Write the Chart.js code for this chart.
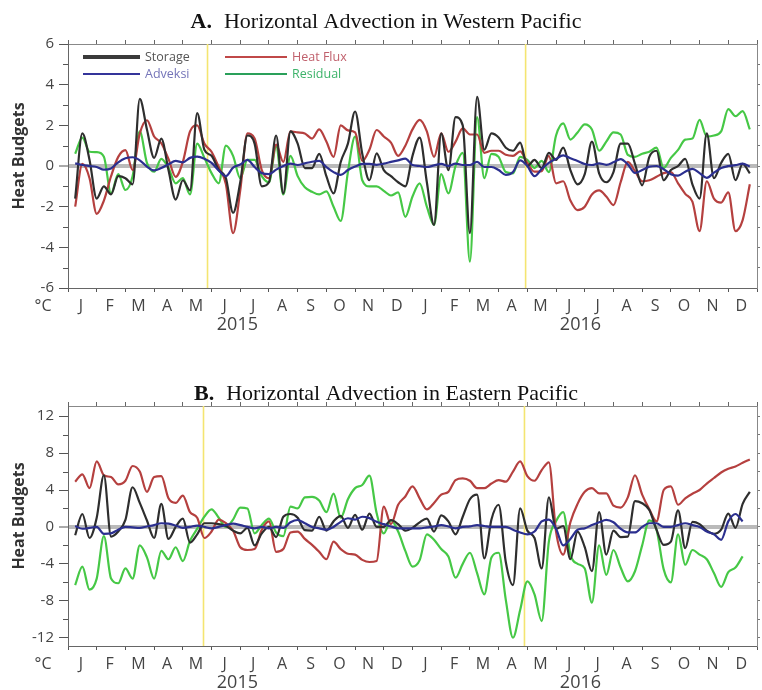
<!DOCTYPE html>
<html>
<head>
<meta charset="utf-8">
<script src="https://cdn.jsdelivr.net/npm/chart.js@4.4.1/dist/chart.umd.min.js"></script>
<style>
  html, body { margin: 0; padding: 0; background: #fff; }
  #wrap { position: relative; width: 762px; height: 690px; }
  .panel { position: absolute; left: 0; width: 762px; height: 345px; }
</style>
</head>
<body>
<div id="wrap">
  <div class="panel" style="top:0"><canvas id="chartA" width="762" height="345"></canvas></div>
  <div class="panel" style="top:345px"><canvas id="chartB" width="762" height="345"></canvas></div>
</div>
<script>
// month letters for 2015 + 2016
var monthLetters = ['J','F','M','A','M','J','J','A','S','O','N','D',
                    'J','F','M','A','M','J','J','A','S','O','N','D'];
var yearNames = ['2015', '2016'];
var ticksA = [-6, -4, -2, 0, 2, 4, 6];
var ticksB = [-12, -8, -4, 0, 4, 8, 12];

// sample times (months since Jan 2015), quarter-month steps
var sampleMonths = [];
for (var i = 1; i <= 95; i++) sampleMonths.push(i * 0.25);

// A. Western Pacific
var storageA = [-1.6, 1.6, 0.3, -1.6, -1.0, -1.4, -0.5, -0.6, -0.9, 3.3,
  1.8, 0.4, 1.35, -0.2, -1.65, -0.7, -1.2, 2.6, 0.8, 0.5,
  -0.2, -0.6, -2.3, -0.8, 1.5, 1.1, -1.0, -0.8, 1.5, -1.35,
  1.7, 1.1, -0.1, -0.1, 0.6, -0.5, -1.35, 0.2, 1.1, 2.68,
  0.6, -0.7, 0.62, -0.2, -0.5, -0.8, -1.0, 0.5, 1.4, -0.8,
  -2.9, 1.6, -0.2, 2.4, 2.0, -3.3, 3.4, 0.8, 1.6, 1.4,
  0.9, 0.75, 1.15, 0.0, 0.3, -0.1, 0.65, 0.3, 0.9, -0.2,
  -0.9, -0.4, 1.2, -0.36, -0.8, -0.3, 1.1, 1.1, 0.1, -0.95,
  0.45, 0.75, -0.7, -0.2, 0.0, 0.35, -0.9, -1.6, 1.6, -0.6,
  0.15, 0.6, -0.7, 0.1, -0.36];
var heatFluxA = [-2.0, 0.1, -0.6, -2.35, -1.7, -0.5, 0.45, 0.78, -0.2, 1.6,
  2.25, 1.45, 1.12, 0.35, -0.53, 0.2, 1.7, 2.0, 1.1, 0.7,
  -0.05, -0.9, -3.3, -1.2, 1.6, 1.35, -0.2, -0.6, 1.05, 0.2,
  1.7, 1.65, 1.6, 1.35, 1.8, 1.2, 0.45, 2.0, 1.75, 1.65,
  0.25, 0.8, 1.77, 1.45, 1.15, 0.5, 1.0, 1.8, 2.27, 1.7,
  0.45, 1.6, 0.7, 1.2, 1.85, 1.55, 1.55, 0.65, 0.75, 0.75,
  0.55, 0.5, 0.72, 0.15, -0.28, -0.25, 0.5, -0.85, -0.75, -1.7,
  -2.17, -2.0, -1.4, -1.2, -1.5, -1.92, -0.8, 0.2, -0.25, -0.75,
  -0.7, -0.53, -0.35, -0.3, -0.85, -1.37, -1.75, -3.2, -0.75, -1.6,
  -1.8, -1.3, -3.2, -2.66, -0.9];
var adveksiA = [0.13, 0.05, 0.0, -0.05, -0.18, -0.12, 0.18, 0.38, 0.43, 0.28,
  -0.03, -0.22, -0.1, 0.08, 0.25, 0.18, 0.4, 0.46, 0.36, 0.15,
  -0.22, -0.5, -0.08, 0.07, 0.3, -0.05, -0.35, -0.4, -0.18, 0.0,
  0.12, 0.05, 0.13, 0.21, 0.25, -0.05, -0.3, -0.44, -0.2, -0.03,
  0.1, 0.1, 0.06, 0.12, 0.2, 0.28, 0.36, 0.05, 0.0, -0.05,
  0.03, 0.1, 0.0, 0.12, 0.05, 0.05, 0.2, -0.05, -0.05, -0.2,
  -0.44, -0.3, 0.28, 0.0, -0.5, -0.15, 0.15, 0.35, 0.52, 0.38,
  0.25, 0.1, 0.05, 0.13, 0.06, 0.18, 0.34, 0.08, -0.34, -0.2,
  -0.03, 0.0, -0.16, -0.4, -0.47, -0.28, -0.14, -0.35, -0.58, -0.33,
  -0.1, 0.0, 0.04, 0.12, -0.03];
var residualA = [0.6, 1.4, 0.7, 0.68, 0.46, -1.35, -0.4, -1.18, -0.5, 1.7,
  0.15, -0.28, 0.35, -0.1, -0.85, -0.6, -1.4, 1.1, 0.4, -0.35,
  -0.85, 1.0, 0.5, -0.6, 0.3, 0.3, -0.5, -0.8, 0.95, -1.4,
  0.5, -0.5, -1.05, -1.27, -1.4, -1.25, -2.0, -2.7, -0.3, 1.44,
  -0.7, -1.0, -1.0, -1.22, -1.45, -1.3, -2.5, -1.5, -0.85, -2.0,
  -2.9, -0.4, -1.35, 0.0, 0.65, -4.7, 2.4, -0.6, 0.6, 0.45,
  -0.3, -0.36, 0.45, 0.3, -0.1, 0.25, -0.3, 1.5, 2.1, 1.3,
  1.65, 2.05, 1.8, 0.75, 1.2, 1.65, 1.55, 0.55, 0.45, 0.6,
  0.7, 0.9, -0.1, 0.4, 0.79, 1.3, 1.35, 2.27, 1.45, 1.5,
  1.7, 2.8, 2.45, 2.7, 1.8];

// B. Eastern Pacific
var storageB = [-0.9, 1.4, -1.2, 1.0, 5.6, -1.05, -0.5, 0.76, 4.3, 2.6,
  0.7, -1.2, 2.5, -1.3, 0.0, 0.9, -1.7, -0.8, 0.4, 0.4,
  0.3, 0.1, -0.4, -0.7, -0.1, -2.0, -0.7, 0.0, -1.1, 1.1,
  1.4, 1.0, -0.35, -0.4, 1.1, -0.4, 0.6, 1.2, -0.1, 1.3,
  -0.3, 1.45, 0.0, 0.0, 0.75, 0.3, -0.4, -0.1, 0.5, 0.9,
  -0.5, 1.25, 0.6, -0.8, 1.1, 3.0, 3.5, -3.4, 0.8, 2.4,
  -3.8, -6.3, 2.0, -0.4, -1.2, -4.5, 3.2, -0.2, 0.1, -3.5,
  -0.5, -2.2, -4.8, 1.6, -3.0, -0.4, -1.1, -1.05, 2.8, 2.56,
  1.84, -0.3, -1.95, -1.6, 1.8, -2.3, 0.55, 0.3, -0.4, -0.75,
  -0.3, 1.45, -0.1, 2.5, 3.8];
var heatFluxB = [4.9, 5.7, 4.2, 7.1, 5.6, 5.4, 4.6, 5.0, 6.6, 6.0,
  3.8, 5.4, 5.5, 3.1, 2.6, 3.4, 1.6, 1.0, -1.2, -0.5,
  0.8, 0.4, -0.4, -2.2, -2.5, -2.4, -0.3, 0.6, -2.7, -2.4,
  -0.6, -0.5, -1.3, -1.95, -2.7, -3.5, -1.6, -2.4, -2.9, -3.0,
  -3.57, -3.8, -3.7, 2.2, 0.3, 2.4, 3.3, 4.4, 3.1, 1.9,
  2.6, 3.5, 3.8, 5.08, 5.26, 5.0, 4.2, 4.2, 4.7, 5.08,
  4.9, 6.0, 7.1, 5.5, 5.0, 6.16, 7.0, -0.5, -3.0, 0.5,
  2.5, 3.8, 4.2, 3.64, 3.64, 2.3, 2.1, 3.2, 5.6, 3.5,
  1.9, 0.6, 4.0, 4.4, 2.4, 3.1, 3.6, 4.0, 4.7, 5.3,
  5.9, 6.3, 6.55, 6.95, 7.3];
var adveksiB = [0.1, -0.2, -0.1, 0.0, -0.75, -0.7, -0.3, 0.0, -0.05, -0.1,
  0.05, 0.2, 0.4, 0.35, 0.15, -0.1, 0.0, 0.15, 0.0, -0.15,
  0.0, 0.2, 0.35, 0.2, 0.0, -0.15, 0.0, -0.15, 0.0, -0.1,
  0.5, 0.75, 0.4, 0.0, -0.15, -0.3, 0.0, 0.55, 0.94, 0.8,
  1.1, 0.95, 0.55, 0.3, 0.05, -0.15, -0.15, -0.15, -0.15, -0.05,
  0.05, 0.2, 0.05, -0.15, 0.0, 0.05, 0.2, 0.1, 0.0, 0.0,
  0.0, -0.3, -0.6, -0.8, -0.5, 0.6, 0.8, -0.2, -2.0, -1.3,
  -0.3, -0.15, 0.2, 0.5, 0.76, 0.5, -0.2, -0.6, -0.6, 0.0,
  0.4, 0.4, 0.0, 0.0, 0.2, 0.4, 0.2, 0.0, -0.5, -0.8,
  -1.4, 0.6, 1.4, 0.6, null];
var residualB = [-6.3, -4.3, -6.8, -5.6, -1.0, -5.6, -6.1, -4.5, -5.6, -2.0,
  -3.3, -5.6, -2.6, -3.5, -2.2, -3.7, -1.5, -0.2, 1.12, 1.9,
  1.0, 0.0, 0.8, 2.1, 2.0, -0.7, 0.2, 0.9, -0.6, -1.0,
  2.2, 2.0, 3.2, 3.25, 2.85, 1.6, 3.6, 1.0, 3.0, 4.2,
  4.54, 5.55, 1.5, -0.7, 0.7, -0.5, -2.6, -4.3, -3.6, -0.8,
  -1.4, -2.4, -3.2, -5.5, -4.0, -2.8, -5.0, -7.3, -3.3, -2.8,
  -7.9, -12.0, -9.0, -5.9, -7.3, -10.2, -1.6, 0.6, 1.6, -3.0,
  -4.0, -4.5, -8.2, -2.0, -5.2, -2.5, -4.4, -5.9, -4.8, -2.0,
  0.7, -0.3, -4.6, -6.0, -0.8, -4.1, -2.5, -3.0, -3.5, -5.0,
  -6.5, -4.9, -4.4, -3.2, null];

// months where the yellow marker lines sit
var markersA = [4.86, 15.94];
var markersB = [4.72, 15.9];

var FONT = '"Open Sans", sans-serif';

// titles, axis caption, years, minor ticks, legend, yellow markers
var decor = {
  id: 'decor',
  beforeDatasetsDraw: function(chart, args, o) {
    var ctx = chart.ctx, a = chart.chartArea, x = chart.scales.x;
    ctx.save();
    ctx.strokeStyle = '#f4e571';
    ctx.lineWidth = 1.6;
    o.markers.forEach(function(m) {
      var px = x.getPixelForValue(m);
      ctx.beginPath(); ctx.moveTo(px, a.top); ctx.lineTo(px, a.bottom); ctx.stroke();
    });
    ctx.restore();
  },
  afterDraw: function(chart, args, o) {
    var ctx = chart.ctx, a = chart.chartArea, x = chart.scales.x, y = chart.scales.y;
    ctx.save();

    // short minor ticks on the left axis
    ctx.strokeStyle = '#555'; ctx.lineWidth = 1;
    o.minor.forEach(function(v) {
      var py = Math.round(y.getPixelForValue(v)) + 0.5;
      ctx.beginPath(); ctx.moveTo(a.left - 5, py); ctx.lineTo(a.left, py); ctx.stroke();
    });

    // panel title: bold letter + regular text
    ctx.fillStyle = '#111'; ctx.textBaseline = 'alphabetic'; ctx.textAlign = 'left';
    ctx.font = 'bold 22px "Liberation Serif"';
    var w1 = ctx.measureText(o.title[0]).width;
    ctx.font = '22px "Liberation Serif"';
    var w2 = ctx.measureText(o.title[1]).width;
    var gap = 12;
    var tx = 386 - (w1 + gap + w2) / 2;
    ctx.font = 'bold 22px "Liberation Serif"';
    ctx.fillText(o.title[0], tx, o.titleY);
    ctx.font = '22px "Liberation Serif"';
    ctx.fillText(o.title[1], tx + w1 + gap, o.titleY);

    // y caption
    ctx.save();
    ctx.translate(19, (a.top + a.bottom) / 2 - 10);
    ctx.rotate(-Math.PI / 2);
    ctx.textAlign = 'center'; ctx.textBaseline = 'middle';
    ctx.font = 'bold 16px ' + FONT; ctx.fillStyle = '#333';
    ctx.fillText('Heat Budgets', 0, 0);
    ctx.restore();

    // unit and years
    ctx.fillStyle = '#444'; ctx.textAlign = 'center'; ctx.textBaseline = 'alphabetic';
    ctx.font = '16px ' + FONT;
    ctx.fillText('\u00B0C', 43, a.bottom + 23);
    ctx.font = '18px ' + FONT;
    o.years.forEach(function(yr, k) {
      ctx.fillText(yearNames[k], x.getPixelForValue(yr), a.bottom + 42);
    });

    // legend, two columns inside the plot
    if (o.legend) {
      var items = [
        { t: 'Storage',   c: '#3a3a3a', tc: '#555',    w: 4, col: 0, row: 0 },
        { t: 'Heat Flux', c: '#c04848', tc: '#c0606c', w: 2, col: 1, row: 0 },
        { t: 'Adveksi',   c: '#34349a', tc: '#7474b8', w: 2, col: 0, row: 1 },
        { t: 'Residual',  c: '#2aa05a', tc: '#3db36a', w: 2, col: 1, row: 1 }
      ];
      ctx.font = '12.5px ' + FONT; ctx.textAlign = 'left'; ctx.textBaseline = 'middle';
      items.forEach(function(it) {
        var lx = a.left + (it.col ? 157 : 15);
        var ly = a.top + (it.row ? 30 : 13);
        var len = it.col ? 62 : 57;
        ctx.strokeStyle = it.c; ctx.lineWidth = it.w;
        ctx.beginPath(); ctx.moveTo(lx, ly); ctx.lineTo(lx + len, ly); ctx.stroke();
        ctx.fillStyle = it.tc;
        ctx.fillText(it.t, lx + len + 5, ly);
      });
    }
    ctx.restore();
  }
};

function series(label, values, color, order) {
  return {
    label: label,
    data: sampleMonths.map(function(m, i) { return { x: m, y: values[i] }; }),
    borderColor: color,
    borderWidth: 2.2,
    pointRadius: 0,
    fill: false,
    cubicInterpolationMode: 'monotone',
    spanGaps: false,
    order: order
  };
}

function makePanel(id, p) {
  var tickLabelFont = { family: FONT, size: 15 };
  return new Chart(document.getElementById(id), {
    type: 'line',
    data: {
      datasets: [
        series('Storage', p.storage, '#2e2e2e', 1),
        series('Heat Flux', p.heatFlux, '#b5403f', 2),
        series('Adveksi', p.adveksi, '#2b2f8f', 0),
        series('Residual', p.residual, '#46c846', 3)
      ]
    },
    options: {
      responsive: false,
      animation: false,
      devicePixelRatio: 1,
      layout: { padding: { top: p.padTop, left: 0, right: 0, bottom: 0 } },
      plugins: {
        legend: { display: false },
        tooltip: { enabled: false },
        decor: {
          title: p.title, titleY: p.titleY, markers: p.markers,
          minor: p.minor, years: [5.9, 17.85], legend: p.legend
        }
      },
      scales: {
        x: {
          type: 'linear', position: 'bottom', min: 0, max: 24,
          afterBuildTicks: function(s) {
            s.ticks = monthLetters.map(function(_, i) { return { value: i }; }).concat([{ value: 24 }]);
          },
          afterFit: function(s) { s.height = p.xHeight; },
          ticks: {
            autoSkip: false, maxRotation: 0, minRotation: 0, labelOffset: 13, padding: 5,
            color: '#444', font: { family: FONT, size: 16 },
            callback: function(v) { return monthLetters[v] || ''; }
          },
          grid: { drawOnChartArea: false, drawTicks: true, tickLength: 4, color: '#555' },
          border: { color: '#666', width: 1 }
        },
        x2: {
          type: 'linear', position: 'top', min: 0, max: 24,
          afterBuildTicks: function(s) {
            s.ticks = monthLetters.map(function(_, i) { return { value: i }; }).concat([{ value: 24 }]);
          },
          afterFit: function(s) { s.height = 4; },
          ticks: { display: false },
          grid: { drawOnChartArea: false, drawTicks: true, tickLength: 4, color: '#666' },
          border: { color: '#888', width: 1 }
        },
        y: {
          position: 'left', min: p.min, max: p.max,
          afterBuildTicks: function(s) { s.ticks = p.ticks.map(function(v) { return { value: v }; }); },
          afterFit: function(s) { s.width = 68; },
          ticks: { padding: 5, color: '#444', font: tickLabelFont },
          grid: {
            drawOnChartArea: true, drawTicks: true, tickLength: 9,
            color: function(c) { return c.tick && c.tick.value === 0 ? 'rgba(140,140,140,0.6)' : 'rgba(0,0,0,0)'; },
            lineWidth: function(c) { return c.tick && c.tick.value === 0 ? 4 : 1; },
            tickColor: '#555', tickWidth: 1
          },
          border: { color: '#666', width: 1 }
        },
        y2: {
          position: 'right', min: p.min, max: p.max,
          afterBuildTicks: function(s) { s.ticks = p.rightTicks.map(function(v) { return { value: v }; }); },
          afterFit: function(s) { s.width = 3; },
          ticks: { display: false },
          grid: { drawOnChartArea: false, drawTicks: true, tickLength: 3, color: '#777' },
          border: { color: '#888', width: 1 }
        }
      }
    },
    plugins: [decor]
  });
}

makePanel('chartA', {
  storage: storageA, heatFlux: heatFluxA, adveksi: adveksiA, residual: residualA,
  min: -6, max: 6, ticks: ticksA,
  minor: [-5, -3, -1, 1, 3, 5],
  rightTicks: [-5, -4, -3, -2, -1, 0, 1, 2, 3, 4, 5],
  markers: markersA,
  title: ['A.', 'Horizontal Advection in Western Pacific'], titleY: 28,
  padTop: 40, xHeight: 57, legend: true
});

makePanel('chartB', {
  storage: storageB, heatFlux: heatFluxB, adveksi: adveksiB, residual: residualB,
  min: -12.9, max: 13.1, ticks: ticksB,
  minor: [-10, -6, -2, 2, 6, 10],
  rightTicks: [-12, -10, -8, -6, -4, -2, 0, 2, 4, 6, 8, 10, 12],
  markers: markersB,
  title: ['B.', 'Horizontal Advection in Eastern Pacific'], titleY: 55,
  padTop: 57, xHeight: 44, legend: false
});
</script>
</body>
</html>
